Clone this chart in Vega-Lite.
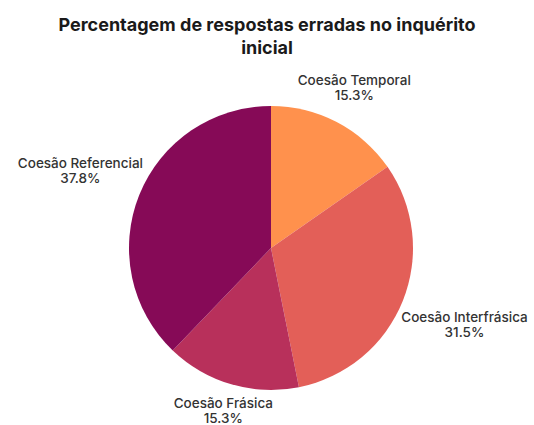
{
  "$schema": "https://vega.github.io/schema/vega-lite/v6.json",
  "width": 526,
  "height": 360,
  "padding": {"top": 68, "left": 8, "right": 0, "bottom": 0},
  "autosize": {"type": "none"},
  "background": "white",
  "title": {
    "text": ["Percentagem de respostas erradas no inquérito", "inicial"],
    "font": "Inter",
    "fontSize": 18,
    "fontWeight": "bold",
    "color": "#1a1a1a",
    "anchor": "middle",
    "lineHeight": 23,
    "offset": 10,
    "dx": -4
  },
  "data": {
    "values": [
      {"cat": "Coesão Temporal", "value": 15.3, "ord": 1},
      {"cat": "Coesão Interfrásica", "value": 31.5, "ord": 2},
      {"cat": "Coesão Frásica", "value": 15.3, "ord": 3},
      {"cat": "Coesão Referencial", "value": 37.8, "ord": 4}
    ]
  },
  "transform": [
    {"calculate": "datum.cat + '\\n' + format(datum.value, '.1f') + '%'", "as": "lab"},
    {"window": [{"op": "sum", "field": "value", "as": "cum"}], "sort": [{"field": "ord"}]},
    {"calculate": "datum.cum - datum.value / 2", "as": "mid"},
    {"calculate": "datum.mid / 99.9 * 2 * PI", "as": "ang"},
    {"calculate": "143 + abs(sin(datum.ang)) * 3.4 * length(datum.cat) + abs(cos(datum.ang)) * 15", "as": "rad"}
  ],
  "resolve": {"scale": {"theta": "independent"}},
  "layer": [
    {
      "mark": {"type": "arc", "outerRadius": 142},
      "encoding": {
        "theta": {"field": "value", "type": "quantitative", "stack": true},
        "order": {"field": "ord", "type": "quantitative"},
        "color": {
          "field": "cat",
          "type": "nominal",
          "legend": null,
          "scale": {
            "domain": ["Coesão Temporal", "Coesão Interfrásica", "Coesão Frásica", "Coesão Referencial"],
            "range": ["#FF914D", "#E35F58", "#B8305B", "#860A57"]
          }
        }
      }
    },
    {
      "mark": {"type": "text", "lineBreak": "\n", "font": "Inter", "fontSize": 13.5, "fontWeight": 500, "lineHeight": 15, "baseline": "middle", "dy": -7.5, "color": "#333333"},
      "encoding": {
        "theta": {"field": "mid", "type": "quantitative", "stack": false, "scale": {"domain": [0, 99.9]}},
        "text": {"field": "lab"},
        "radius": {"field": "rad", "type": "quantitative", "scale": null}
      }
    }
  ]
}
